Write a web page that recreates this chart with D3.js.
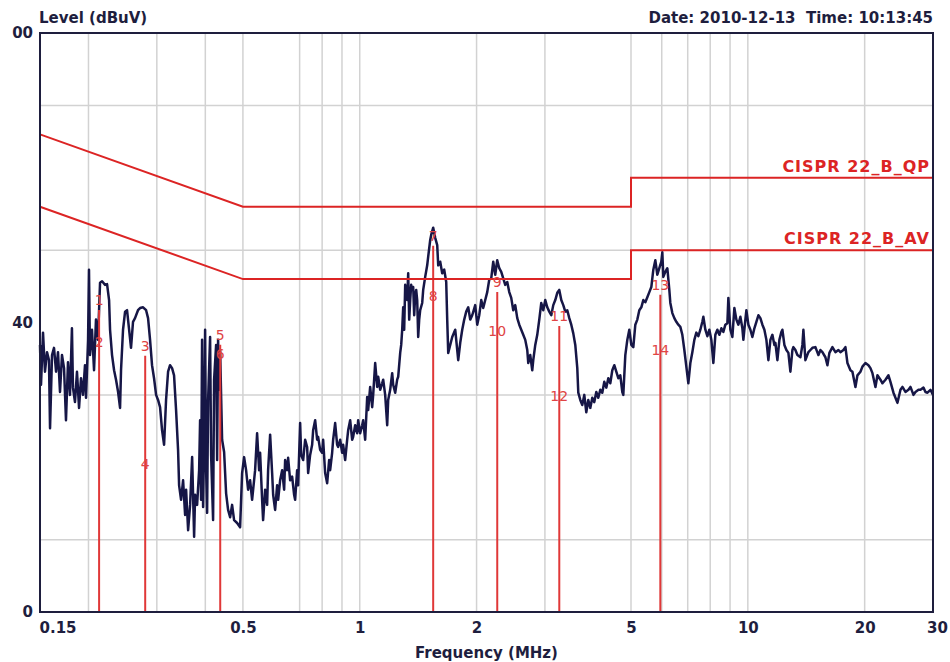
<!DOCTYPE html>
<html>
<head>
<meta charset="utf-8">
<script src="https://cdn.jsdelivr.net/npm/d3@7"></script>
<style>
  body { margin: 0; background: #fff; }
  svg { display: block; font-family: "DejaVu Sans", sans-serif; }
</style>
</head>
<body>
<div id="chart"></div>
<script>
// axis ticks / grid
const xTickValues = [0.15, 0.5, 1, 2, 5, 10, 20, 30];
const xTickLabels = ["0.15", "0.5", "1", "2", "5", "10", "20", "30"];
const yTickValues = [0, 40, 80];
const yTickLabels = ["0", "40", "00"];
const xGridValues = [0.2, 0.3, 0.4, 0.5, 0.7, 0.8, 0.9, 1, 2, 3, 5, 6, 7, 8, 9, 10, 20];
const yGridValues = [10, 30, 50, 70];

// CISPR 22 class B limits (MHz / dBuV)
const limitFreq = [0.15, 0.5, 5, 5, 30];
const limitQP = [66, 56, 56, 60, 60];
const limitAV = [56, 46, 46, 50, 50];
const limitNames = ["CISPR 22_B_QP", "CISPR 22_B_AV"];

// markers: QP reading (odd number) and AV reading (even number)
const markerFreq = [0.213, 0.280, 0.437, 1.546, 2.261, 3.267, 5.950];
const markerQP = [43.1, 36.8, 38.3, 52.0, 45.6, 40.9, 45.2];
const markerAV = [37.3, 20.4, 35.7, 43.7, 38.8, 29.8, 36.2];

// peak scan [MHz, dBuV]
const trace = [
  [0.150,36.9],[0.1509,31.4],[0.1527,38.6],[0.1545,33.2],[0.1564,35.9],[0.1582,34.8],[0.1592,25.4],[0.1611,35.5],
  [0.1630,36.5],[0.1650,33.2],[0.1669,35.9],[0.1689,30.4],[0.1709,35.5],[0.1730,33.7],[0.1750,26.5],[0.1771,34.5],
  [0.1792,30.0],[0.1813,39.2],[0.1824,31.0],[0.1846,29.0],[0.1868,33.2],[0.1891,28.2],[0.1913,32.3],[0.1936,30.0],
  [0.1959,34.1],[0.1971,29.6],[0.1995,37.6],[0.2006,47.3],[0.2018,35.5],[0.2042,39.0],[0.2067,33.4],[0.2091,40.4],
  [0.2116,37.6],[0.2142,45.5],[0.2168,45.7],[0.2207,45.2],[0.2233,45.3],[0.2260,43.1],[0.2273,39.0],[0.2300,35.5],
  [0.2328,33.4],[0.2355,32.1],[0.2384,30.4],[0.2412,28.2],[0.2426,33.4],[0.2455,39.0],[0.2485,41.5],[0.2514,41.7],
  [0.2545,39.0],[0.2574,36.5],[0.2605,40.1],[0.2636,40.6],[0.2683,41.7],[0.2716,42.0],[0.2765,42.1],[0.2815,41.7],
  [0.2848,40.6],[0.2882,37.6],[0.2916,34.1],[0.2951,32.3],[0.2987,30.0],[0.3022,29.3],[0.3058,28.3],[0.3095,25.1],
  [0.3132,23.1],[0.3169,29.3],[0.3207,33.2],[0.3245,34.1],[0.3284,33.7],[0.3323,32.7],[0.3363,27.9],[0.3403,22.4],
  [0.3424,17.5],[0.3464,15.5],[0.3506,18.2],[0.3548,13.4],[0.3569,16.9],[0.3612,11.3],[0.3655,14.8],[0.3699,21.4],
  [0.3743,10.4],[0.3765,16.2],[0.3810,14.8],[0.3856,19.6],[0.3878,26.5],[0.3901,15.5],[0.3924,37.6],[0.3948,14.5],
  [0.3971,23.8],[0.3995,39.0],[0.4019,19.6],[0.4043,13.7],[0.4067,29.3],[0.4115,38.0],[0.4140,21.7],[0.4189,12.7],
  [0.4214,32.1],[0.4265,36.9],[0.4290,21.0],[0.4315,37.6],[0.4341,30.7],[0.4367,36.2],[0.4419,23.8],[0.4472,22.1],
  [0.4525,16.4],[0.4579,14.1],[0.4634,13.1],[0.4689,14.8],[0.4745,12.7],[0.4831,12.3],[0.4917,11.7],[0.4976,19.2],
  [0.5035,21.4],[0.5095,19.6],[0.5156,16.9],[0.5218,18.2],[0.5280,15.5],[0.5375,19.6],[0.5439,24.7],[0.5504,19.6],
  [0.5537,22.0],[0.5603,15.5],[0.5636,12.7],[0.5704,16.9],[0.5772,14.8],[0.5806,19.6],[0.5876,24.5],[0.5946,19.2],
  [0.5982,16.2],[0.6053,14.1],[0.6125,17.5],[0.6162,15.5],[0.6235,18.2],[0.6310,19.6],[0.6385,16.9],[0.6423,21.0],
  [0.6500,19.6],[0.6538,21.3],[0.6616,18.2],[0.6695,18.7],[0.6775,16.2],[0.6815,15.5],[0.6897,19.6],[0.6938,17.5],
  [0.7021,26.1],[0.7063,21.7],[0.7148,21.0],[0.7233,23.8],[0.7319,22.8],[0.7362,19.2],[0.7450,21.7],[0.7539,23.1],
  [0.7584,25.1],[0.7675,26.5],[0.7766,23.8],[0.7812,24.2],[0.7906,22.4],[0.8000,22.0],[0.8048,23.8],[0.8144,19.2],
  [0.8242,17.8],[0.8340,21.0],[0.8389,19.6],[0.8489,22.0],[0.8540,23.8],[0.8642,26.1],[0.8745,23.1],[0.8797,22.8],
  [0.8903,23.8],[0.9009,22.0],[0.9063,23.1],[0.9171,21.0],[0.9281,23.8],[0.9336,25.1],[0.9447,26.5],[0.9560,23.8],
  [0.9616,24.2],[0.9732,25.8],[0.9848,24.7],[0.9907,26.5],[1.0025,24.7],[1.0145,25.8],[1.0205,26.5],[1.0327,23.8],
  [1.0451,29.7],[1.0513,27.9],[1.0638,31.1],[1.0765,28.3],[1.0829,30.0],[1.0959,34.4],[1.1090,31.1],[1.1156,32.5],
  [1.1289,30.7],[1.1424,31.6],[1.1492,32.1],[1.1629,30.0],[1.1768,25.8],[1.1838,29.3],[1.1979,30.7],[1.2122,33.0],
  [1.2194,31.4],[1.2340,30.3],[1.2487,32.1],[1.2562,32.5],[1.2712,35.8],[1.2788,36.9],[1.2864,39.0],[1.2940,42.1],
  [1.3017,39.0],[1.3095,45.2],[1.3173,43.8],[1.3251,43.1],[1.3330,46.8],[1.3410,40.4],[1.3489,43.1],[1.3570,45.2],
  [1.3650,44.5],[1.3732,44.9],[1.3813,41.0],[1.3896,43.8],[1.3978,44.5],[1.4061,43.1],[1.4145,38.0],[1.4229,40.4],
  [1.4314,41.7],[1.4485,42.7],[1.4571,44.5],[1.4745,46.3],[1.4921,47.9],[1.5010,49.1],[1.5190,51.4],[1.5280,52.1],
  [1.5463,53.1],[1.5647,51.7],[1.5834,50.7],[1.5929,47.9],[1.6119,48.4],[1.6311,46.8],[1.6506,47.3],[1.6703,45.6],
  [1.6803,40.4],[1.6903,35.8],[1.7105,36.9],[1.7309,38.0],[1.7620,39.0],[1.7937,34.8],[1.8151,37.2],[1.8368,39.0],
  [1.8587,40.4],[1.8809,41.5],[1.9034,42.1],[1.9261,40.4],[1.9491,41.0],[1.9841,42.4],[2.0078,39.7],[2.0318,41.0],
  [2.0561,43.1],[2.0806,42.0],[2.1055,43.1],[2.1306,44.2],[2.1561,45.9],[2.1818,46.1],[2.2079,48.4],[2.2342,46.6],
  [2.2609,48.6],[2.2880,47.5],[2.3153,47.0],[2.3430,46.1],[2.3709,45.2],[2.3993,45.6],[2.4280,44.2],[2.4568,43.4],
  [2.4862,41.7],[2.5159,42.4],[2.5460,40.6],[2.5764,39.7],[2.6071,39.0],[2.6383,38.3],[2.6698,37.6],[2.7017,36.2],
  [2.7178,34.4],[2.7502,35.5],[2.7830,33.4],[2.7996,34.8],[2.8331,36.9],[2.8669,38.3],[2.9012,40.4],[2.9358,42.7],
  [2.9708,41.7],[3.0063,43.1],[3.0423,42.1],[3.0786,41.5],[3.1153,41.0],[3.1526,42.4],[3.1902,43.1],[3.2283,44.1],
  [3.2669,44.5],[3.3059,43.1],[3.3454,42.4],[3.3853,41.5],[3.4258,41.7],[3.4667,40.6],[3.5080,39.7],[3.5500,38.5],
  [3.5924,36.9],[3.6353,33.7],[3.6570,30.3],[3.7006,29.3],[3.7448,28.6],[3.7895,30.0],[3.8348,27.6],[3.8806,29.3],
  [3.9269,28.2],[3.9738,29.6],[4.0212,29.0],[4.0693,30.4],[4.1179,29.6],[4.1671,30.7],[4.2168,30.3],[4.2672,31.8],
  [4.3182,31.0],[4.3697,32.3],[4.4219,31.6],[4.4747,33.4],[4.5281,34.1],[4.5822,33.2],[4.6369,32.3],[4.6924,32.7],
  [4.7484,30.4],[4.7767,30.0],[4.8338,35.5],[4.8915,37.6],[4.9499,39.0],[5.0090,36.9],[5.0689,36.6],[5.1294,39.7],
  [5.1906,40.4],[5.2526,41.7],[5.3153,42.1],[5.3788,43.1],[5.4431,42.8],[5.5081,43.5],[5.5738,44.2],[5.6404,44.9],
  [5.7077,47.3],[5.7759,48.6],[5.8449,46.6],[5.9146,47.5],[5.9854,48.4],[6.0208,49.7],[6.0567,46.3],[6.1290,47.0],
  [6.2022,47.5],[6.2762,44.5],[6.3139,42.7],[6.3893,41.3],[6.4656,40.6],[6.5428,40.1],[6.6209,39.7],[6.7000,39.4],
  [6.7800,38.3],[6.8610,36.2],[6.9429,33.9],[7.0258,31.6],[7.1098,34.4],[7.1947,35.9],[7.2806,37.6],[7.3675,38.6],
  [7.4555,38.1],[7.5447,39.0],[7.6348,40.1],[7.6802,40.8],[7.7720,39.0],[7.8648,38.1],[7.9587,39.0],[8.0537,37.6],
  [8.1499,34.4],[8.2473,38.3],[8.3458,39.0],[8.4455,38.3],[8.5464,39.2],[8.6484,38.7],[8.7517,39.7],[8.8562,39.9],
  [8.9090,43.4],[9.0154,39.0],[9.1231,38.0],[9.2320,42.0],[9.3423,40.4],[9.4539,39.7],[9.5668,40.8],[9.6810,39.2],
  [9.7387,37.6],[9.8550,40.4],[9.9137,41.7],[10.032,39.7],[10.152,39.0],[10.273,38.0],[10.396,39.2],[10.520,40.1],
  [10.646,41.0],[10.773,40.6],[10.902,39.7],[11.032,39.0],[11.164,37.6],[11.297,34.8],[11.432,37.6],[11.568,38.3],
  [11.706,36.9],[11.776,37.2],[11.917,34.8],[12.059,37.6],[12.203,38.7],[12.276,39.0],[12.422,36.9],[12.571,36.2],
  [12.721,35.8],[12.873,33.2],[13.027,36.2],[13.104,36.6],[13.261,36.2],[13.419,35.5],[13.660,35.2],[13.823,36.9],
  [13.905,39.0],[14.071,34.8],[14.325,35.9],[14.496,36.2],[14.669,36.5],[14.933,36.6],[15.201,35.5],[15.382,36.2],
  [15.566,35.9],[15.845,35.2],[16.034,34.1],[16.225,35.8],[16.518,36.6],[16.815,35.9],[17.117,36.2],[17.321,35.9],
  [17.632,36.2],[17.843,36.6],[18.056,34.4],[18.381,33.4],[18.600,33.2],[18.935,31.1],[19.161,32.7],[19.505,33.2],
  [19.738,33.9],[20.093,34.4],[20.454,34.1],[20.698,33.7],[20.945,33.0],[21.322,31.1],[21.576,32.7],[21.964,32.1],
  [22.226,31.6],[22.626,32.1],[23.032,32.7],[23.307,31.8],[23.726,30.3],[24.009,29.6],[24.296,28.9],[24.733,30.7],
  [25.028,31.1],[25.478,30.4],[25.936,30.7],[26.245,31.1],[26.717,30.0],[27.036,30.4],[27.522,30.7],[27.850,30.7],
  [28.351,31.0],[28.689,30.4],[29.032,30.3],[29.554,30.7],[30.0,30.0]
];

const width = 950;
const height = 662;
const margin = { top: 33, right: 17, bottom: 50, left: 40 };

const svg = d3.select('#chart').append('svg')
  .attr('width', width)
  .attr('height', height);

const xScale = d3.scaleLog()
  .domain([0.15, 30])
  .range([margin.left, width - margin.right]);

const yScale = d3.scaleLinear()
  .domain([0, 80])
  .range([height - margin.bottom, margin.top]);

const frameColor = '#1e1e3e';
const red = '#dc2424';

// grid
const grid = svg.append('g').attr('class', 'grid');
grid.selectAll('.vgrid').data(xGridValues).join('line')
  .attr('class', 'vgrid')
  .attr('x1', d => xScale(d)).attr('x2', d => xScale(d))
  .attr('y1', yScale(80)).attr('y2', yScale(0))
  .attr('stroke', '#d2d2d2').attr('stroke-width', 1.5);
grid.selectAll('.hgrid').data(yGridValues).join('line')
  .attr('class', 'hgrid')
  .attr('x1', xScale(0.15)).attr('x2', xScale(30))
  .attr('y1', d => yScale(d)).attr('y2', d => yScale(d))
  .attr('stroke', '#d2d2d2').attr('stroke-width', 1.5);

// trace
const traceLine = d3.line()
  .x(d => xScale(d[0]))
  .y(d => yScale(d[1]));

svg.append('path')
  .datum(trace)
  .attr('d', traceLine)
  .attr('fill', 'none')
  .attr('stroke', '#161646')
  .attr('stroke-width', 2.5)
  .attr('stroke-linejoin', 'round');

// marker lines
svg.append('g').selectAll('line').data(markerFreq).join('line')
  .attr('x1', d => xScale(d)).attr('x2', d => xScale(d))
  .attr('y1', (d, i) => yScale(markerQP[i]) + 10)
  .attr('y2', yScale(0))
  .attr('stroke', '#e03838')
  .attr('stroke-width', 2);

// limit lines
const limitLine = d3.line()
  .x((d, i) => xScale(limitFreq[i]))
  .y(d => yScale(d));

[limitQP, limitAV].forEach((lim, k) => {
  svg.append('path')
    .datum(lim)
    .attr('d', limitLine)
    .attr('fill', 'none')
    .attr('stroke', red)
    .attr('stroke-width', 2);
  svg.append('text')
    .attr('x', xScale(30) - 3)
    .attr('y', yScale(lim[lim.length - 1]) - 6)
    .attr('text-anchor', 'end')
    .attr('font-size', 16)
    .attr('font-weight', 'bold')
    .attr('letter-spacing', 1)
    .attr('fill', red)
    .text(limitNames[k]);
});

// marker labels
const markerLabels = [];
markerFreq.forEach((f, i) => {
  markerLabels.push({ f: f, v: markerQP[i], n: 2 * i + 1 });
  markerLabels.push({ f: f, v: markerAV[i], n: 2 * i + 2 });
});
svg.append('g').selectAll('text').data(markerLabels).join('text')
  .attr('x', d => xScale(d.f))
  .attr('y', d => yScale(d.v))
  .attr('dy', '0.35em')
  .attr('text-anchor', 'middle')
  .attr('font-size', 14)
  .attr('fill', '#e04444')
  .text(d => d.n);

// frame
svg.append('rect')
  .attr('x', xScale(0.15)).attr('y', yScale(80))
  .attr('width', xScale(30) - xScale(0.15))
  .attr('height', yScale(0) - yScale(80))
  .attr('fill', 'none')
  .attr('stroke', frameColor)
  .attr('stroke-width', 2);

// axes
const axisStyle = g => {
  g.select('.domain').remove();
  g.selectAll('text')
    .attr('font-family', '"DejaVu Sans", sans-serif')
    .attr('font-size', 15)
    .attr('font-weight', 'bold')
    .attr('fill', frameColor);
};

const xAxisG = svg.append('g')
  .attr('transform', `translate(0, ${yScale(0)})`)
  .call(d3.axisBottom(xScale)
    .tickValues(xTickValues)
    .tickFormat((d, i) => xTickLabels[i])
    .tickSize(0)
    .tickPadding(10))
  .call(axisStyle);
xAxisG.selectAll('text')
  .filter((d, i) => i === 0)
  .attr('text-anchor', 'start')
  .attr('dx', -1);
xAxisG.selectAll('text')
  .filter((d, i) => i === xTickValues.length - 1)
  .attr('dx', 4);

svg.append('g')
  .attr('transform', `translate(${xScale(0.15)}, 0)`)
  .call(d3.axisLeft(yScale)
    .tickValues(yTickValues)
    .tickFormat((d, i) => yTickLabels[i])
    .tickSize(0)
    .tickPadding(7))
  .call(axisStyle);

// titles
svg.append('text')
  .attr('x', 39).attr('y', 23)
  .attr('font-size', 15).attr('font-weight', 'bold')
  .attr('fill', frameColor)
  .text('Level (dBuV)');

svg.append('text')
  .attr('x', xScale(30)).attr('y', 23)
  .attr('text-anchor', 'end')
  .attr('font-size', 15).attr('font-weight', 'bold')
  .attr('fill', frameColor)
  .attr('xml:space', 'preserve')
  .style('white-space', 'pre')
  .text('Date: 2010-12-13  Time: 10:13:45');

svg.append('text')
  .attr('x', (xScale(0.15) + xScale(30)) / 2).attr('y', 658)
  .attr('text-anchor', 'middle')
  .attr('font-size', 15).attr('font-weight', 'bold')
  .attr('fill', frameColor)
  .text('Frequency (MHz)');
</script>
</body>
</html>
